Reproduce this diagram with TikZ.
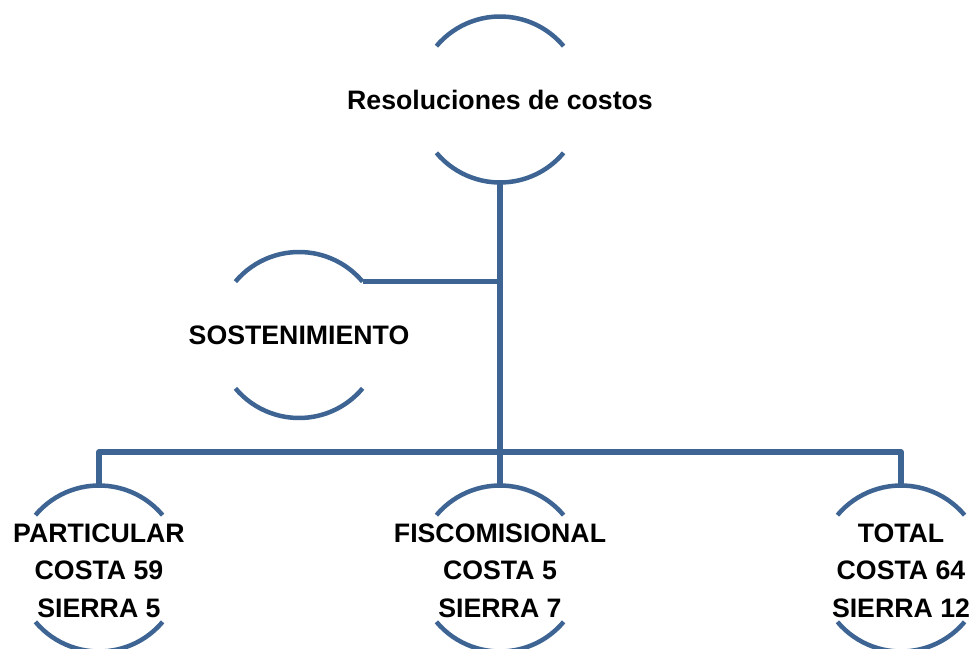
\documentclass[tikz,border=0pt]{standalone}
\usepackage{fontspec}
\setmainfont{Liberation Sans}
\usepackage{tikz}
\definecolor{ringblue}{RGB}{62,100,148}
\tikzset{ring/.style={circle, minimum size=166bp, inner sep=0pt, outer sep=0pt},
  arcline/.style={draw=ringblue, line width=4.5bp},
  conn/.style={draw=ringblue, line width=5.5bp, line join=round},
  label/.style={align=center, inner sep=0pt, font=\bfseries\fontsize{26.8}{37.5}\selectfont}}
\newcommand{\halfarcs}[1]{%
  \draw[arcline] (#1.140) arc[start angle=140, end angle=40, radius=83bp];
  \draw[arcline] (#1.220) arc[start angle=220, end angle=320, radius=83bp];}

\begin{document}
\begin{tikzpicture}[x=1bp, y=-1bp]
    \useasboundingbox (0,0) rectangle (972,649);
    \clip (0,0) rectangle (972,649);
    \node[ring] (res) at (500, 99.5) {};
    \node[ring] (sos) at (299, 335) {};
    \node[ring] (part) at (99, 568.5) {};
    \node[ring] (fisc) at (500, 568.5) {};
    \node[ring] (total) at (901, 568.5) {};
    \halfarcs{res}
    \halfarcs{sos}
    \halfarcs{part}
    \halfarcs{fisc}
    \halfarcs{total}
    \node[label] (restxt) at (res) {Resoluciones de costos};
    \node[label] (sostxt) at (sos) {SOSTENIMIENTO};
    \node[label] (parttxt) at ([yshift=-2bp]part) {PARTICULAR\\COSTA 59\\SIERRA 5};
    \node[label] (fisctxt) at ([yshift=-2bp]fisc) {FISCOMISIONAL\\COSTA 5\\SIERRA 7};
    \node[label] (totaltxt) at ([yshift=-2bp]total) {TOTAL\\COSTA 64\\SIERRA 12};
    \coordinate (branch) at (500, 452);
    \draw[conn] (res.south) -- (branch);
    \draw[conn] (sos.40) -- (sos.40 -| res.south);
    \draw[conn] (part.north) |- (branch) -| (total.north);
    \draw[conn] (fisc.north) -- (branch);
  \end{tikzpicture}
\end{document}
